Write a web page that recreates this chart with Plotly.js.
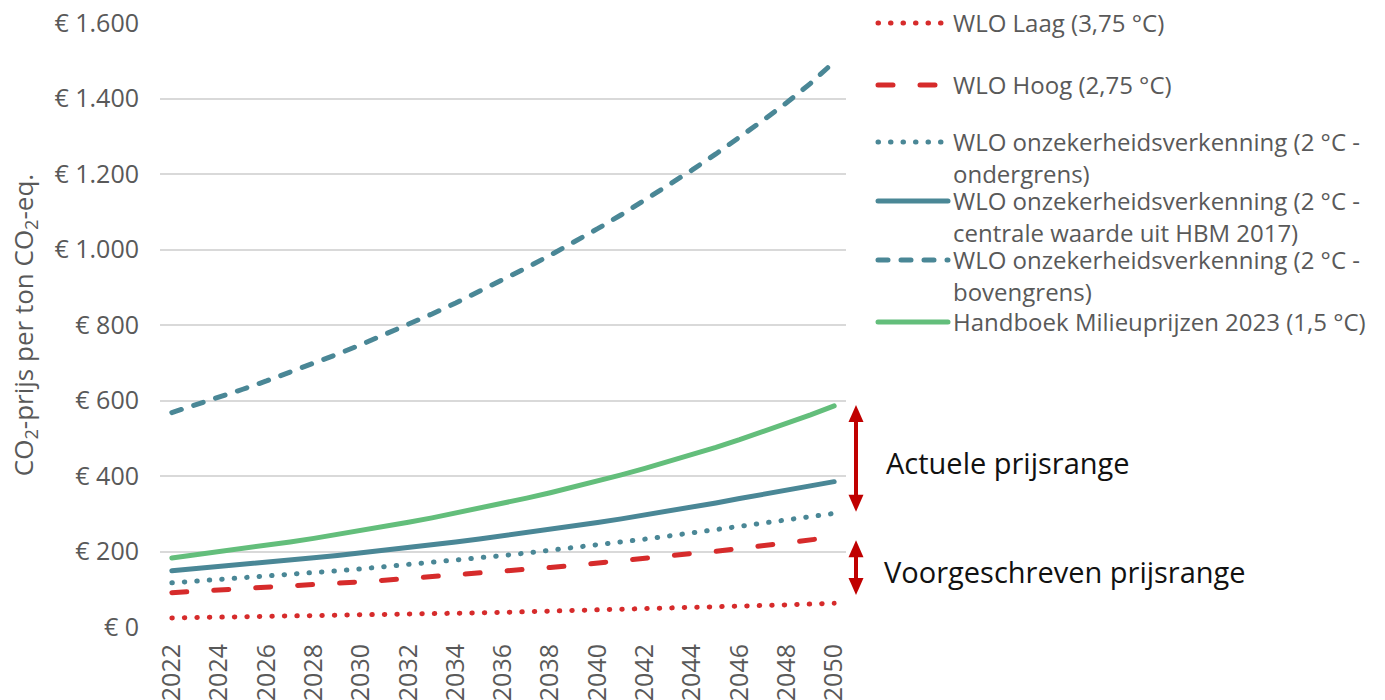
<!DOCTYPE html>
<html>
<head>
<meta charset="utf-8">
<script src="https://cdn.plot.ly/plotly-3.0.1.min.js"></script>
<style>
  html, body { margin: 0; padding: 0; background: #fff; }
  #chart { width: 1385px; height: 700px; }
  path.js-line { stroke-linecap: round !important; }
</style>
</head>
<body>
<div id="chart"></div>
<script>
// ---- data ----
const years = [2022,2023,2024,2025,2026,2027,2028,2029,2030,2031,2032,2033,2034,2035,2036,2037,2038,2039,2040,2041,2042,2043,2044,2045,2046,2047,2048,2049,2050];

const wloLaag = [24,24.8,25.7,26.6,27.5,28.5,29.5,30.5,31.6,32.7,33.9,35.0,36.3,37.5,38.8,40.2,41.6,43.1,44.6,46.1,47.8,49.4,51.2,52.9,54.8,56.7,58.7,60.8,62.9];
const wloHoog = [91,94.2,97.5,100.9,104.4,108.1,111.9,115.8,119.8,124.0,128.4,132.9,137.5,142.3,147.3,152.5,157.8,163.3,169.0,174.9,181.1,187.4,194.0,200.8,207.8,215.1,222.6,230.4,238.5];
const wloOnder = [117,121.1,125.3,129.7,134.3,139.0,143.8,148.9,154.1,159.5,165.0,170.8,176.8,183.0,189.4,196.0,202.9,210.0,217.3,224.9,232.8,241.0,249.4,258.1,267.1,276.5,286.2,294.2,301.0];
const wloCentraal = [149,154.2,159.6,165.2,171.0,177.0,183.2,189.6,196.2,203.1,210.2,217.5,225.1,233.0,241.2,249.6,258.4,267.4,276.8,286.5,296.5,306.8,317.6,328.7,340.2,352.1,364.4,375.2,385.0];
const wloBoven = [568,587.9,608.5,629.8,651.8,674.6,698.2,722.7,748.0,774.2,801.3,829.3,858.3,888.4,919.5,951.7,985.0,1019.4,1055.1,1092.0,1130.3,1169.8,1210.8,1253.2,1297.0,1342.4,1389.4,1440.1,1497.0];
const handboek = [183,190.8,198.9,207.3,216.1,225.3,234.8,244.8,255.2,266.0,277.3,289.0,301.3,314.1,327.4,341.3,355.8,370.9,386.6,403.0,420.1,437.9,456.5,475.9,496.1,517.1,539.0,561.9,585.7];

const seriesNames = [
  'WLO Laag (3,75 °C)',
  'WLO Hoog (2,75 °C)',
  'WLO onzekerheidsverkenning (2 °C -<br>ondergrens)',
  'WLO onzekerheidsverkenning (2 °C -<br>centrale waarde uit HBM 2017)',
  'WLO onzekerheidsverkenning (2 °C -<br>bovengrens)',
  'Handboek Milieuprijzen 2023 (1,5 °C)'
];

const yTickVals = [0,200,400,600,800,1000,1200,1400,1600];
const yTickText = ['€ 0','€ 200','€ 400','€ 600','€ 800','€ 1.000','€ 1.200','€ 1.400','€ 1.600'];
const xTickVals = [2022,2024,2026,2028,2030,2032,2034,2036,2038,2040,2042,2044,2046,2048,2050];
const xTickText = xTickVals.map(String);

const rangeActueel = [305, 588];
const rangeVoorgeschreven = [85, 230];
const rangeLabels = ['Actuele prijsrange', 'Voorgeschreven prijsrange'];

// ---- styles ----
const RED = '#d62b2b';
const TEAL = '#4a8796';
const GREEN = '#63be7b';
const ARROW = '#c00000';
const GREY = '#595959';
const FONT = 'Open Sans, Lato, sans-serif';
const LW = 5;

const W = 1385, H = 700;
const M = {l: 160, r: 539, t: 23, b: 73};
const plotH = H - M.t - M.b;
const plotW = W - M.l - M.r;

const legendIds = ['legend', 'legend2', 'legend3', 'legend4', 'legend5', 'legend6'];
const legendTops = [1, 63, 120, 179, 238, 300];   // px from top of the figure

const styles = [
  {color: RED, width: LW, dash: '0.5px,12px'},
  {color: RED, width: LW, dash: '15px,27px'},
  {color: TEAL, width: LW, dash: '0.5px,12px'},
  {color: TEAL, width: LW},
  {color: TEAL, width: LW, dash: '10px,13px'},
  {color: GREEN, width: LW}
];
const values = [wloLaag, wloHoog, wloOnder, wloCentraal, wloBoven, handboek];

const traces = values.map((v, i) => ({
  x: years, y: v, type: 'scatter', mode: 'lines', hoverinfo: 'skip',
  name: seriesNames[i], line: styles[i], legend: legendIds[i]
}));

const layout = {
  width: W, height: H,
  margin: M,
  paper_bgcolor: '#ffffff', plot_bgcolor: '#ffffff',
  font: {family: FONT, color: GREY},
  showlegend: true,
  xaxis: {
    type: 'linear', range: [2021.5, 2050.5],
    tickvals: xTickVals, ticktext: xTickText, tickangle: -90,
    tickfont: {family: FONT, size: 25, color: GREY},
    ticklabelstandoff: 11,
    showgrid: false, zeroline: false, showline: false, ticks: '',
    automargin: false, fixedrange: true
  },
  yaxis: {
    range: [0, 1600], tickvals: yTickVals, ticktext: yTickText,
    tickfont: {family: FONT, size: 25, color: GREY},
    gridcolor: '#d9d9d9', gridwidth: 2, zeroline: false, showline: false, ticks: '',
    ticklabelstandoff: 20,
    title: {text: 'CO<sub>2</sub>-prijs per ton CO<sub>2</sub>-eq.', font: {family: FONT, size: 26, color: GREY}, standoff: 13},
    automargin: false, fixedrange: true
  },
  shapes: [],
  annotations: []
};

legendIds.forEach((id, i) => {
  layout[id] = {
    xref: 'container', yref: 'container',
    x: 873 / W, xanchor: 'left', y: 1 - legendTops[i] / H, yanchor: 'top',
    font: {family: FONT, size: 24, color: GREY},
    valign: 'top', itemwidth: 70, bgcolor: 'rgba(0,0,0,0)', borderwidth: 0
  };
});

// double-headed range arrows (x in paper units, y in data units)
const arrowX = 1.0146;
const headHalfW = 7.5 / plotW;
const headLen = 17 * 1600 / plotH;
[rangeActueel, rangeVoorgeschreven].forEach((r) => {
  const lo = r[0], hi = r[1];
  layout.shapes.push({type: 'line', xref: 'paper', yref: 'y', x0: arrowX, x1: arrowX,
    y0: lo + headLen * 0.9, y1: hi - headLen * 0.9, line: {color: ARROW, width: 4}});
  layout.shapes.push({type: 'path', xref: 'paper', yref: 'y', fillcolor: ARROW, line: {width: 0},
    path: `M${arrowX - headHalfW},${hi - headLen} L${arrowX},${hi} L${arrowX + headHalfW},${hi - headLen} Z`});
  layout.shapes.push({type: 'path', xref: 'paper', yref: 'y', fillcolor: ARROW, line: {width: 0},
    path: `M${arrowX - headHalfW},${lo + headLen} L${arrowX},${lo} L${arrowX + headHalfW},${lo + headLen} Z`});
});

layout.annotations.push(
  {xref: 'paper', yref: 'y', x: 1.0554, y: 437, xanchor: 'left', yanchor: 'middle',
   text: rangeLabels[0], showarrow: false, font: {family: FONT, size: 29, color: '#111111'}},
  {xref: 'paper', yref: 'y', x: 1.0525, y: 148, xanchor: 'left', yanchor: 'middle',
   text: rangeLabels[1], showarrow: false, font: {family: FONT, size: 29, color: '#111111'}}
);

Plotly.newPlot('chart', traces, layout, {displayModeBar: false, staticPlot: true});
</script>
</body>
</html>
